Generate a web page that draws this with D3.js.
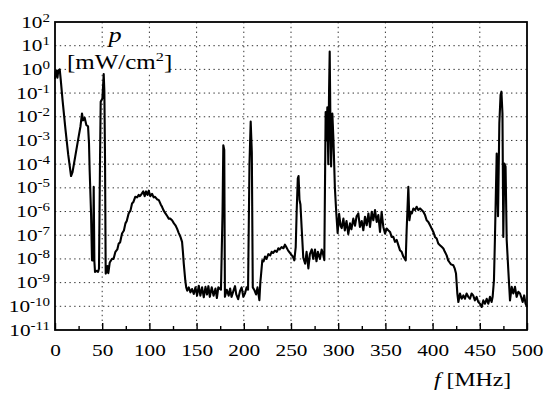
<!DOCTYPE html>
<html>
<head>
<meta charset="utf-8">
<script src="https://cdn.jsdelivr.net/npm/d3@7"></script>
<style>
  body { margin: 0; background: #fff; }
  svg { display: block; font-family: "Liberation Serif", "Times New Roman", serif; }
</style>
</head>
<body>
<div id="chart"></div>
<script>
// ---- Data --------------------------------------------------------------
// frequency in MHz
const freqMHz = [
  0, 0.8, 1.8, 2.6, 3.5, 5, 6, 8, 11, 14, 17, 18.5, 21.5, 25, 27, 28.6, 29.7, 31.5, 33.2, 35,
  36, 36.7, 38.2, 39.2, 40.3, 41, 41.7, 42.4, 44, 45.6, 46.6, 47.7, 48.4, 50.2, 50.9, 51.6, 52.3, 53, 53.7, 55,
  55.5, 56.5, 58, 60.4, 62, 64, 66, 67.5, 69, 71, 73, 74.6, 76, 78, 80, 81.6, 83, 85, 87, 88.7,
  90, 92, 93.5, 95, 96.5, 98, 99.3, 101, 102.8, 104.5, 106, 108, 110, 112, 113.4, 115, 117, 119, 120.5, 122,
  124, 126, 127.6, 129.3, 131, 132.9, 134.6, 135.5, 136.4, 138, 139, 140.1, 141.7, 143.5, 145.2, 147, 148.8, 150.5, 152.3, 154,
  155.8, 157.6, 159.4, 161, 162.5, 164, 166, 168, 170, 171.5, 173, 175.8, 177.5, 178.3, 179.3, 180, 182, 184, 185.5, 187,
  189, 190.7, 192, 194, 196, 197.7, 199.5, 201.3, 203, 204.5, 206, 207.3, 208.5, 209.5, 211, 213, 214.5, 216.5, 217.5, 218.2,
  219.6, 221, 222.5, 224, 226, 228, 229.5, 231, 233, 235, 236.6, 238, 240, 242, 243.6, 245, 247, 249, 250.7, 252,
  253.5, 255, 256, 257.2, 258, 259, 260, 261.3, 263, 265, 266.5, 268.4, 270, 272, 273.5, 275.4, 277, 278.5, 280.7, 282.5,
  284, 285.3, 286.7, 287.5, 288.5, 289.5, 290.3, 291, 291.8, 292.5, 293.8, 295, 296.5, 298, 299.4, 301, 302.5, 303.7, 305.5, 307,
  308.8, 310.7, 312.5, 314, 316, 317.8, 319.5, 321.3, 323, 324.9, 326.6, 328.4, 330.2, 332, 333.7, 335.5, 337.2, 339, 340.8, 342.5,
  344.3, 346, 347.8, 349.6, 351.3, 353, 354.9, 356.6, 358.4, 360.2, 362, 363.7, 365.4, 367.2, 369, 371.5, 372.5, 374.3, 375.4, 376.8,
  378, 379.6, 381.4, 383.1, 384.9, 386.7, 388.5, 390.2, 392, 393.7, 395.5, 397.3, 399, 400.8, 402.5, 404.3, 406, 407.8, 409.6, 411.4,
  413, 414.9, 416.5, 417.7, 419.5, 422, 423.5, 424.8, 426.2, 427.3, 429, 430.8, 432.6, 434.3, 436, 437.8, 439.6, 441.3, 443, 444.8,
  446.6, 448.4, 450.2, 452, 453.7, 455.5, 457.3, 459, 460.8, 462.5, 463.6, 465, 466, 467.9, 469.3, 470.7, 472, 472.9, 474, 474.9,
  476, 477.3, 478.5, 480.2, 482, 483.8, 485.5, 487.3, 489, 490.8, 492.6, 494.4, 495.4, 497, 498.5, 500
];
// power density, log10 of mW/cm^2
const log10P = [
  -0.4, -0.1, -0.05, -0.35, -0.05, 0.0, -0.4, -1.3, -2.5, -3.6, -4.5, -4.35, -3.66, -2.85, -2.4, -1.86, -2.15, -2.05, -2.35, -2.4,
  -3.1, -4.25, -6.1, -8.06, -8.06, -4.96, -8.1, -8.55, -8.5, -8.55, -8.4, -3.8, -1.37, -1.23, -0.73, -0.2, -0.94, -3.83, -8.62, -8.5,
  -8.3, -8.6, -8.15, -7.99, -8.0, -7.7, -7.6, -7.35, -7.3, -6.93, -6.8, -6.5, -6.4, -6.08, -5.95, -5.66, -5.6, -5.38, -5.4, -5.3,
  -5.35, -5.24, -5.15, -5.35, -5.15, -5.3, -5.12, -5.35, -5.25, -5.4, -5.38, -5.48, -5.52, -5.7, -5.8, -5.95, -6.08, -6.2, -6.3, -6.3,
  -6.37, -6.5, -6.58, -6.72, -6.9, -7.07, -7.28, -7.7, -8.2, -8.9, -9.2, -9.34, -9.2, -9.41, -9.27, -9.48, -9.2, -9.55, -9.13, -9.55,
  -9.2, -9.62, -9.18, -9.5, -9.15, -9.6, -9.2, -9.55, -9.25, -9.65, -9.2, -9.3, -6.0, -3.2, -3.4, -9.6, -9.3, -9.55, -9.25, -9.6,
  -9.35, -9.15, -9.5, -9.7, -9.35, -9.2, -9.6, -9.45, -9.2, -9.3, -4.0, -2.2, -3.5, -9.2, -9.3, -9.5, -9.2, -9.74, -9.0, -8.7,
  -8.06, -8.1, -7.9, -8.0, -7.8, -7.85, -7.7, -7.75, -7.65, -7.7, -7.55, -7.6, -7.5, -7.55, -7.4, -7.5, -7.65, -7.75, -7.85, -7.9,
  -8.06, -7.5, -6.0, -4.6, -4.5, -5.5, -5.7, -6.7, -7.95, -8.2, -7.7, -8.4, -7.8, -7.6, -8.0, -7.6, -8.1, -7.7, -8.0, -7.6,
  -7.8, -8.05, -1.8, -3.0, -1.6, -4.0, -1.0, 0.75, -2.5, -4.1, -1.86, -3.0, -5.0, -6.08, -6.9, -6.1, -6.6, -6.7, -6.3, -6.8,
  -6.4, -6.95, -6.5, -6.75, -6.3, -6.6, -6.2, -6.08, -6.65, -6.4, -6.79, -6.22, -6.58, -6.08, -6.65, -6.01, -6.37, -5.94, -6.44, -6.15,
  -6.86, -6.01, -6.65, -6.93, -6.72, -6.79, -6.86, -7.07, -7.07, -7.28, -7.2, -7.42, -7.63, -7.7, -7.9, -8.06, -6.79, -4.96, -6.37, -6.01,
  -6.08, -5.87, -5.94, -5.8, -5.94, -5.87, -5.94, -6.01, -6.15, -6.37, -6.44, -6.58, -6.72, -6.86, -7.07, -7.14, -7.35, -7.42, -7.49, -7.56,
  -7.7, -7.85, -8.06, -8.13, -8.23, -8.27, -8.41, -8.62, -9.46, -9.82, -9.46, -9.68, -9.54, -9.68, -9.46, -9.6, -9.68, -9.46, -9.54, -9.75,
  -9.6, -9.82, -9.89, -10.03, -9.75, -9.89, -9.68, -9.89, -9.6, -9.82, -9.6, -8.9, -7.2, -3.55, -6.2, -2.28, -1.08, -0.94, -1.86, -7.07,
  -3.97, -4.1, -7.2, -8.48, -9.75, -9.18, -9.46, -9.18, -9.6, -9.39, -9.46, -9.68, -9.82, -9.54, -9.89, -10.03
];

const xMajorTicks = [0, 50, 100, 150, 200, 250, 300, 350, 400, 450, 500];
const xMinorTicks = [25, 75, 125, 175, 225, 275, 325, 375, 425, 475];
const yExponents = [2, 1, 0, -1, -2, -3, -4, -5, -6, -7, -8, -9, -10, -11];

// ---- Dimensions --------------------------------------------------------
const width = 550, height = 396;
const plot = { left: 55, right: 527, top: 22, bottom: 330 };
const textScale = 1.25; // source text is stretched horizontally

// ---- Canvas ------------------------------------------------------------
const svg = d3.select('#chart').append('svg')
  .attr('width', width)
  .attr('height', height);

// ---- Scales ------------------------------------------------------------
const xScale = d3.scaleLinear().domain([0, 500]).range([plot.left, plot.right]);
const yScale = d3.scaleLog().domain([1e-11, 1e2]).range([plot.bottom, plot.top]);

// ---- Grid --------------------------------------------------------------
const grid = svg.append('g')
  .attr('stroke', '#333')
  .attr('stroke-width', 1)
  .attr('stroke-dasharray', '1.4,3.4');

grid.selectAll('line.gx')
  .data(xMajorTicks.slice(1, -1))
  .join('line')
  .attr('x1', d => xScale(d)).attr('x2', d => xScale(d))
  .attr('y1', plot.top).attr('y2', plot.bottom);

grid.selectAll('line.gy')
  .data(yExponents.slice(1, -1))
  .join('line')
  .attr('x1', plot.left).attr('x2', plot.right)
  .attr('y1', d => yScale(10 ** d)).attr('y2', d => yScale(10 ** d));

// ---- Line --------------------------------------------------------------
const points = freqMHz.map((f, i) => ({ f, p: 10 ** log10P[i] }));

svg.append('path')
  .datum(points)
  .attr('fill', 'none')
  .attr('stroke', '#000')
  .attr('stroke-width', 2.1)
  .attr('stroke-linejoin', 'round')
  .attr('d', d3.line().x(d => xScale(d.f)).y(d => yScale(d.p)));

// ---- Frame -------------------------------------------------------------
svg.append('rect')
  .attr('x', plot.left).attr('y', plot.top)
  .attr('width', plot.right - plot.left)
  .attr('height', plot.bottom - plot.top)
  .attr('fill', 'none')
  .attr('stroke', '#000')
  .attr('stroke-width', 1.8);

// ---- X axis ------------------------------------------------------------
const xAxis = d3.axisBottom(xScale)
  .tickValues(xMajorTicks)
  .tickSize(-7)
  .tickPadding(14);

const xAxisGroup = svg.append('g')
  .attr('transform', `translate(0,${plot.bottom})`)
  .call(xAxis);
xAxisGroup.select('.domain').remove();
xAxisGroup.selectAll('line').attr('stroke', '#000').attr('stroke-width', 1.4);
xAxisGroup.selectAll('text')
  .attr('fill', '#000')
  .style('font-size', '17px')
  .style('font-family', '"Liberation Serif", "Times New Roman", serif')
  .attr('transform', `scale(${textScale},1)`);

svg.append('g')
  .attr('transform', `translate(0,${plot.bottom})`)
  .call(d3.axisBottom(xScale).tickValues(xMinorTicks).tickSize(-4).tickFormat(''))
  .call(g => g.select('.domain').remove())
  .call(g => g.selectAll('line').attr('stroke', '#000').attr('stroke-width', 1.4));

// ---- Y tick labels -----------------------------------------------------
const yLabels = svg.append('g')
  .selectAll('text')
  .data(yExponents)
  .join('text')
  .attr('text-anchor', 'end')
  .attr('transform', d => `translate(50,${yScale(10 ** d) + 5.5}) scale(${textScale},1)`)
  .style('font-size', '17px');
yLabels.append('tspan').text('10');
yLabels.append('tspan')
  .attr('dy', -6)
  .style('font-size', '12px')
  .text(d => d);

// ---- Axis titles -------------------------------------------------------
const unitBox = svg.append('g');
unitBox.append('rect')
  .attr('x', 66).attr('y', 50).attr('width', 101).attr('height', 22)
  .attr('fill', '#fff');
unitBox.append('rect')
  .attr('x', 108).attr('y', 28).attr('width', 15).attr('height', 19)
  .attr('fill', '#fff');

const unitText = unitBox.append('text')
  .attr('transform', `translate(67,69) scale(${textScale},1)`)
  .style('font-size', '20px');
unitText.append('tspan').text('[mW/cm');
unitText.append('tspan').attr('dy', -8).style('font-size', '13px').text('2');
unitText.append('tspan').attr('dy', 8).text(']');

svg.append('text')
  .attr('transform', `translate(115,42) scale(${textScale},1)`)
  .attr('text-anchor', 'middle')
  .style('font-size', '21px')
  .style('font-style', 'italic')
  .text('p');

const fText = svg.append('text')
  .attr('transform', `translate(434,386) scale(${textScale},1)`)
  .style('font-size', '19px');
fText.append('tspan').style('font-style', 'italic').text('f');
fText.append('tspan').text(' [MHz]');
</script>
</body>
</html>
